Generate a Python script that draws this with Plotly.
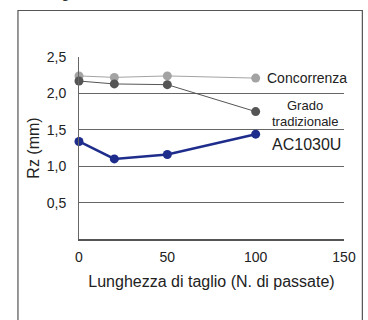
import plotly.graph_objects as go

passate = [0, 20, 50, 100]
concorrenza = [2.24, 2.22, 2.24, 2.21]
grado_tradizionale = [2.17, 2.13, 2.12, 1.75]
ac1030u = [1.34, 1.10, 1.16, 1.44]

y_ticks = [0.5, 1.0, 1.5, 2.0, 2.5]
y_ticktext = ["0,5", "1,0", "1,5", "2,0", "2,5"]
x_ticks = [0, 50, 100, 150]

W, H = 368, 320
L, R, T, B = 79, 22, 57, 81
pw, ph = W - L - R, H - T - B

def px(x):
    return (x - L) / pw

def py(y):
    return (H - B - y) / ph

font = "Liberation Sans, Arial, sans-serif"
narrow = "Liberation Sans Narrow, Arial Narrow, Liberation Sans, sans-serif"

fig = go.Figure()
fig.add_trace(go.Scatter(x=passate, y=concorrenza, mode="lines+markers",
                         line=dict(color="#a3a3a3", width=1),
                         marker=dict(color="#a3a3a3", size=9), cliponaxis=False))
fig.add_trace(go.Scatter(x=passate, y=grado_tradizionale, mode="lines+markers",
                         line=dict(color="#555555", width=1),
                         marker=dict(color="#555555", size=9), cliponaxis=False))
fig.add_trace(go.Scatter(x=passate, y=ac1030u, mode="lines+markers",
                         line=dict(color="#1e2d8c", width=2.5),
                         marker=dict(color="#1e2d8c", size=9), cliponaxis=False))

anns = [
    dict(text="Concorrenza", x=px(266), y=py(78), xanchor="left", yanchor="middle",
         font=dict(family=narrow, size=14, color="#222")),
    dict(text="Grado", x=px(307), y=py(105), xanchor="center", yanchor="middle",
         font=dict(family=narrow, size=13, color="#222")),
    dict(text="tradizionale", x=px(307), y=py(121), xanchor="center", yanchor="middle",
         font=dict(family=narrow, size=13, color="#222")),
    dict(text="AC1030U", x=px(271), y=py(144), xanchor="left", yanchor="middle",
         font=dict(family=font, size=16, color="#222")),
    dict(text="Rugosità", x=px(40), y=py(3), xanchor="left", yanchor="bottom",
         font=dict(family=font, size=15, color="#333")),
]
for a in anns:
    a.update(xref="paper", yref="paper", showarrow=False)

shapes = [
    dict(type="rect", xref="paper", yref="paper",
         x0=px(17.5), x1=px(364.5), y0=py(335), y1=py(10.5),
         line=dict(color="#555555", width=1.2)),
]

fig.update_layout(
    width=W, height=H,
    margin=dict(l=L, r=R, t=T, b=B),
    paper_bgcolor="white", plot_bgcolor="white",
    showlegend=False,
    font=dict(family=font, size=14, color="#222"),
    annotations=anns,
    shapes=shapes,
    xaxis=dict(range=[0, 150], tickvals=x_ticks, showgrid=False, zeroline=False,
               showline=True, linecolor="#555", linewidth=1.5, ticks="",
               ticklabelstandoff=4, tickfont=dict(size=14),
               title=dict(text="Lunghezza di taglio (N. di passate)", standoff=12,
                          font=dict(size=16))),
    yaxis=dict(range=[0, 2.5], tickvals=y_ticks, ticktext=y_ticktext,
               showgrid=True, gridcolor="#666", gridwidth=1, zeroline=False,
               showline=True, linecolor="#666", linewidth=1, ticks="",
               ticklabelstandoff=9, tickfont=dict(size=14),
               title=dict(text="Rz (mm)", standoff=3, font=dict(size=16))),
)

fig.write_html("out.html", post_script="document.body.style.margin='0';",
               config={"displayModeBar": False})
